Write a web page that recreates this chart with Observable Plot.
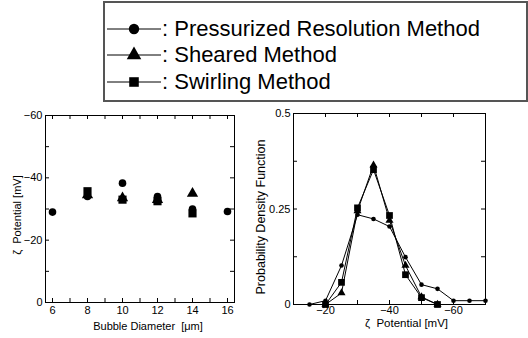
<!DOCTYPE html>
<html>
<head>
<meta charset="utf-8">
<script src="https://cdn.jsdelivr.net/npm/d3@7"></script>
<script src="https://cdn.jsdelivr.net/npm/@observablehq/plot@0.6"></script>
<style>
  html, body { margin:0; padding:0; background:#fff; }
  #root { position:relative; width:528px; height:338px; overflow:hidden; font-family:'Liberation Sans',Arial,sans-serif; color:#000; }
  #legend { position:absolute; left:103px; top:1px; width:421px; height:97px; border:2px solid #555; }
  .row { position:absolute; left:2px; height:26px; display:flex; align-items:center; font-size:22px; white-space:nowrap; }
  .row svg { display:block; }
  .row span { margin-left:1px; }
  #left { position:absolute; left:0; top:100px; }
  #right { position:absolute; left:252px; top:100px; }
</style>
</head>
<body>
<div id="root">
  <div id="legend"></div>
  <div id="left"></div>
  <div id="right"></div>
</div>
<script>
// ---- data ----
const methods = ["Pressurized Resolution Method", "Sheared Method", "Swirling Method"];

// left: zeta potential vs bubble diameter
const diamP = [6, 8, 10, 12, 14, 16];
const zetaP = [-29, -34, -38.3, -34, -30, -29.2];
const diamS = [8, 10, 12, 14];
const zetaSh = [-34.5, -33.5, -33, -35];
const zetaSw = [-35.7, -33, -32.5, -28.6];

// right: probability density functions
const pdfXP = [-15, -20, -25, -30, -35, -40, -45, -50, -55, -60, -65, -70];
const pdfP = [0, 0.01, 0.102, 0.235, 0.224, 0.204, 0.124, 0.052, 0.041, 0.01, 0.01, 0.01];
const pdfXS = [-20, -25, -30, -35, -40, -45, -50, -55];
const pdfSh = [0, 0.03, 0.245, 0.365, 0.22, 0.102, 0.02, 0];
const pdfSw = [0, 0.058, 0.253, 0.353, 0.233, 0.078, 0.018, 0];

// ticks
const leftXMinor = d3.range(6, 17, 1);
const leftXLabels = [6, 8, 10, 12, 14, 16];
const leftYMinor = [0, -10, -20, -30, -40, -50, -60];
const leftYLabels = [0, -20, -40, -60];
const rightXMinor = [-10, -20, -30, -40, -50, -60, -70];
const rightXLabels = [-20, -40, -60];
const rightYMinor = [0, 0.125, 0.25, 0.375, 0.5];
const rightYLabels = [0, 0.25, 0.5];

// axis titles
const leftXTitle = "Bubble Diameter  [\u03bcm]";
const leftYTitle = "\u03b6  Potential [mV]";
const rightXTitle = "\u03b6  Potential [mV]";
const rightYTitle = "Probability Density Function";

const minus = d => (d < 0 ? "\u2212" + (-d) : String(d));
const font = "'Liberation Sans',Arial,sans-serif";

// ---- legend ----
const legend = document.getElementById("legend");
const rowCenters = [26, 52, 79];
const legSizes = [5.2, 5.4, 5.4];
methods.forEach((m, i) => {
  const row = document.createElement("div");
  row.className = "row";
  row.style.top = (rowCenters[i] - 13) + "px";
  const w = 54, h = 26;
  const svg = d3.create("svg").attr("width", w).attr("height", h);
  svg.append("line").attr("x1", 0).attr("x2", w).attr("y1", h / 2).attr("y2", h / 2)
    .attr("stroke", "#000").attr("stroke-width", 1);
  svg.append("path")
    .attr("transform", `translate(${w / 2},${h / 2})`)
    .attr("d", d3.symbol(i === 0 ? d3.symbolCircle : i === 1 ? d3.symbolTriangle : d3.symbolSquare,
      Math.PI * legSizes[i] * legSizes[i])())
    .attr("fill", "#000");
  row.appendChild(svg.node());
  const span = document.createElement("span");
  span.textContent = ":\u00a0" + m;
  row.appendChild(span);
  legend.appendChild(row);
});

function frameTicks(xMinor, yMinor, fw, fh, len) {
  return [
    Plot.tickX(xMinor, {x: d => d, insetTop: fh - len, stroke: "#000"}),
    Plot.tickX(xMinor, {x: d => d, insetBottom: fh - len, stroke: "#000"}),
    Plot.tickY(yMinor, {y: d => d, insetRight: fw - len, stroke: "#000"}),
    Plot.tickY(yMinor, {y: d => d, insetLeft: fw - len, stroke: "#000"})
  ];
}

// ---- left chart ----
{
  const W = 260, H = 238, mL = 45, mR = 26, mT = 15, mB = 36;
  const fw = W - mL - mR, fh = H - mT - mB;
  const chart = Plot.plot({
    width: W, height: H, marginLeft: mL, marginRight: mR, marginTop: mT, marginBottom: mB,
    style: {fontFamily: font, fontSize: "11px", color: "#000", background: "transparent", overflow: "visible"},
    x: {domain: [5.6, 16.4], axis: null},
    y: {domain: [0, -60], axis: null},
    marks: [
      ...frameTicks(leftXMinor, leftYMinor, fw, fh, 4),
      Plot.frame({stroke: "#000"}),
      Plot.axisX(leftXLabels, {tickSize: 0, tickPadding: 4, fontSize: 11, tickFormat: d => String(d), label: null}),
      Plot.axisY(leftYLabels, {tickSize: 0, tickPadding: 3, tickFormat: minus, fontSize: 11, label: null}),
      Plot.text([leftXTitle], {frameAnchor: "bottom", textAnchor: "middle", dy: 27, dx: 8, fontSize: 11, fill: "#000"}),
      Plot.text([leftYTitle], {frameAnchor: "left", textAnchor: "middle", rotate: -90, dx: -28, dy: 6, fontSize: 11, fill: "#000"}),
      Plot.dot(diamS, {x: d => d, y: (d, i) => zetaSh[i], symbol: () => "triangle", r: 4.2, fill: "#000", stroke: "none"}),
      Plot.dot(diamP, {x: d => d, y: (d, i) => zetaP[i], symbol: () => "circle", r: 3.8, fill: "#000", stroke: "none"}),
      Plot.dot(diamS, {x: d => d, y: (d, i) => zetaSw[i], symbol: () => "square", r: 4.6, fill: "#000", stroke: "none"})
    ]
  });
  document.getElementById("left").appendChild(chart);
}

// ---- right chart ----
{
  const W = 276, H = 238, mL = 41, mR = 43, mT = 13, mB = 34;
  const fw = W - mL - mR, fh = H - mT - mB;
  const P = pdfXP.map((x, i) => ({x, y: pdfP[i]}));
  const Sh = pdfXS.map((x, i) => ({x, y: pdfSh[i]}));
  const Sw = pdfXS.map((x, i) => ({x, y: pdfSw[i]}));
  const chart = Plot.plot({
    width: W, height: H, marginLeft: mL, marginRight: mR, marginTop: mT, marginBottom: mB,
    style: {fontFamily: font, fontSize: "11px", color: "#000", background: "transparent", overflow: "visible"},
    x: {domain: [-10, -70], axis: null},
    y: {domain: [0, 0.5], axis: null},
    marks: [
      ...frameTicks(rightXMinor, rightYMinor, fw, fh, 4),
      Plot.frame({stroke: "#000"}),
      Plot.axisX(rightXLabels, {tickSize: 0, tickPadding: 2, tickFormat: minus, fontSize: 11, label: null}),
      Plot.axisY(rightYLabels, {tickSize: 0, tickPadding: 3, fontSize: 11, tickFormat: d => String(d), label: null}),
      Plot.text([rightXTitle], {frameAnchor: "bottom", textAnchor: "middle", dy: 22, dx: 17, fontSize: 11.5, fill: "#000"}),
      Plot.text([rightYTitle], {frameAnchor: "left", textAnchor: "middle", rotate: -90, dx: -33, dy: 8, fontSize: 12.5, fill: "#000"}),
      Plot.line(P, {x: "x", y: "y", stroke: "#000", strokeWidth: 1}),
      Plot.line(Sh, {x: "x", y: "y", stroke: "#000", strokeWidth: 1}),
      Plot.line(Sw, {x: "x", y: "y", stroke: "#000", strokeWidth: 1}),
      Plot.dot(P, {x: "x", y: "y", symbol: () => "circle", r: 2.3, fill: "#000", stroke: "none"}),
      Plot.dot(Sh, {x: "x", y: "y", symbol: () => "triangle", r: 3, fill: "#000", stroke: "none"}),
      Plot.dot(Sw, {x: "x", y: "y", symbol: () => "square", r: 3.8, fill: "#000", stroke: "none"})
    ]
  });
  document.getElementById("right").appendChild(chart);
}
</script>
</body>
</html>
